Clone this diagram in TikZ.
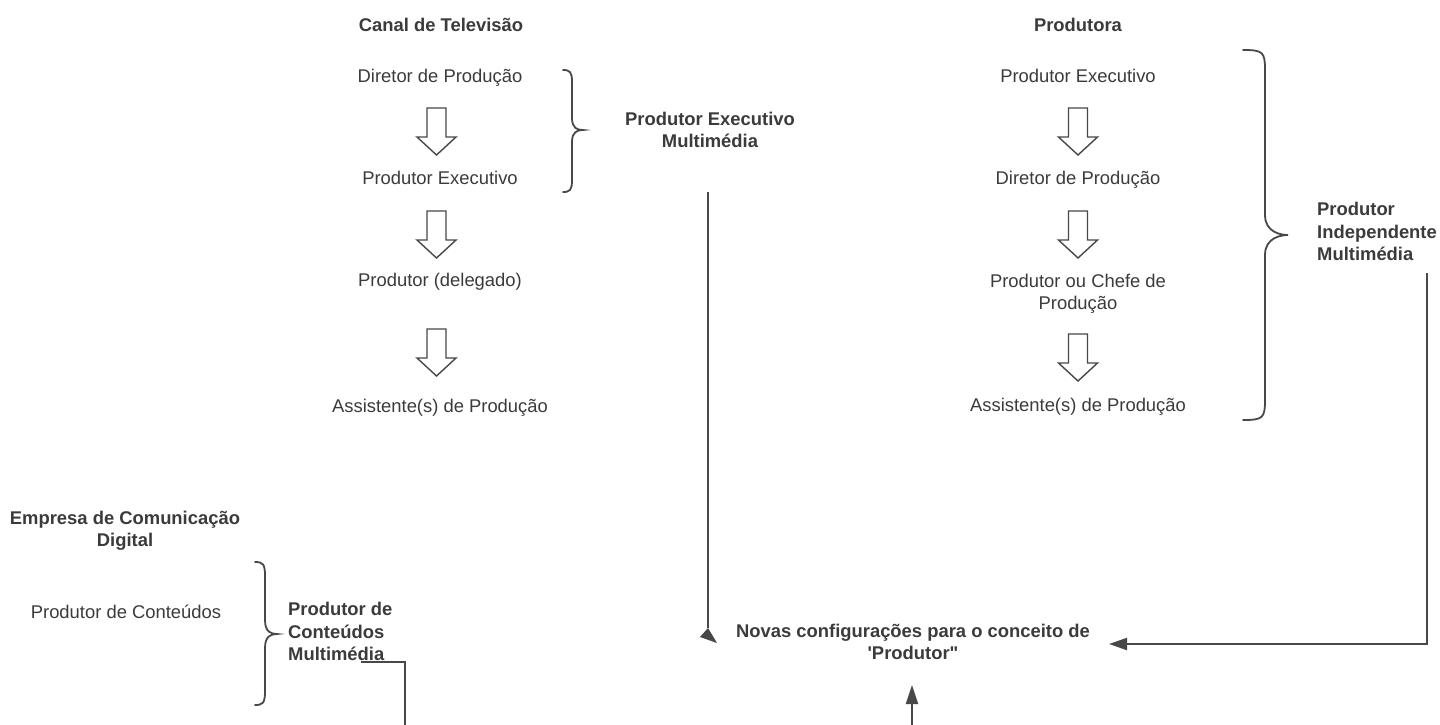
\documentclass[tikz,border=0pt]{standalone}
\usepackage{fontspec}
\setmainfont{Liberation Sans}
% a family without TeX quote ligatures, for straight quote marks
\newfontfamily\straightsans{Liberation Sans}
\usetikzlibrary{arrows.meta}
\definecolor{ink}{HTML}{3B3B3B}
\definecolor{wire}{HTML}{484848}

% curly brace: end x, spine x, tip x, top y, tip y, bottom y, curl size
\newcommand\drawbrace[7]{%
  \draw[bracel] (#1,#4) .. controls ({#2-2},#4) and (#2,{#4+2}) .. (#2,{#4+#7})
    -- (#2,{#5-#7}) .. controls (#2,{#5-2}) and ({#3-6},#5) .. (#3,#5)
    .. controls ({#3-6},#5) and (#2,{#5+2}) .. (#2,{#5+#7})
    -- (#2,{#6-#7}) .. controls (#2,{#6-2}) and ({#2-2},#6) .. (#1,#6);}

\begin{document}
\begin{tikzpicture}[x=1pt,y=-1pt,
  lbl/.style={inner sep=0pt, anchor=base, text=ink, font=\fontsize{18.4}{22.5}\selectfont},
  head/.style={lbl, font=\fontsize{18.4}{22.5}\selectfont\bfseries},
  wireline/.style={draw=wire, line width=2pt},
  bracel/.style={draw=wire, line width=1.8pt, line cap=round},
  hollow/.style={draw=wire, line width=1.4pt, fill=white, line join=miter},
  hollowdown/.pic={\path[hollow] (-9.5,0) -- (9.5,0) -- (9.5,29) -- (19.5,29)
      -- (0,47) -- (-19.5,29) -- (-9.5,29) -- cycle;}
]
\useasboundingbox (0,0) rectangle (1440,724);
\fill[white] (0,0) rectangle (1440,724);

% --- television channel hierarchy
\node[head] (canal) at (441,31.5) {Canal de Televisão};
\node[lbl] (c1) at (440,82.5) {Diretor de Produção};
\node[lbl] (c2) at (440,184.5) {Produtor Executivo};
\node[lbl] (c3) at (440,286.5) {Produtor (delegado)};
\node[lbl] (c4) at (440,412.5) {Assistente(s) de Produção};
\pic at (436.5,108) {hollowdown};
\pic at (436.5,211) {hollowdown};
\pic at (436.5,329) {hollowdown};
\drawbrace{563}{572}{583}{70}{130}{192}{12}
\node[head, align=center] (pem) at (710,147.5) {Produtor Executivo\\Multimédia};

% --- production company hierarchy
\node[head] (prod) at (1078,31.5) {Produtora};
\node[lbl] (p1) at (1078,82.5) {Produtor Executivo};
\node[lbl] (p2) at (1078,184.5) {Diretor de Produção};
\node[lbl, align=center] (p3) at (1078,309.5) {Produtor ou Chefe de\\Produção};
\node[lbl] (p4) at (1078,411.5) {Assistente(s) de Produção};
\pic at (1078,108) {hollowdown};
\pic at (1078,211) {hollowdown};
\pic at (1078,334) {hollowdown};
\drawbrace{1243}{1265}{1288}{50}{235}{420}{20}
\node[head, align=left, anchor=base west] (pim) at (1317,260.5) {Produtor\\Independente\\Multimédia};

% --- digital communication company
\node[head, align=center] (emp) at (125,546.5) {Empresa de Comunicação\\Digital};
\node[lbl] (e1) at (126,618.5) {Produtor de Conteúdos};
\drawbrace{255}{265}{277}{562}{634}{705}{14}
\node[head, align=left, anchor=base west] (pcm) at (288,660.5) {Produtor de\\Conteúdos\\Multimédia};

% --- convergence
\node[head, align=center, font=\fontsize{18.4}{22}\straightsans\bfseries] (novas) at (913,659.5)
  {Novas configurações para o conceito de\\'Produtor"};

\coordinate (pemfoot) at (708,192);
\coordinate (pemend) at (708,628);
\coordinate (pimfoot) at (1427,273);
\coordinate (novasright) at (1109,644);
\coordinate (pcmfoot) at (361,662);
\coordinate (pcmout) at (405,725);
\coordinate (novasin) at (912,725);
\coordinate (novasbot) at (912,685);

\draw[wireline] (pemfoot) -- (pemend);
\fill[wire] (pemend) -- (700,637) -- (717,643) -- cycle;
\draw[wireline, -{Triangle[length=18pt,width=12pt]}] (pimfoot) |- (novasright);
\draw[wireline] (pcmfoot) -| (pcmout);
\draw[wireline, -{Triangle[length=19pt,width=12pt]}] (novasin) -- (novasbot);
\end{tikzpicture}
\end{document}
